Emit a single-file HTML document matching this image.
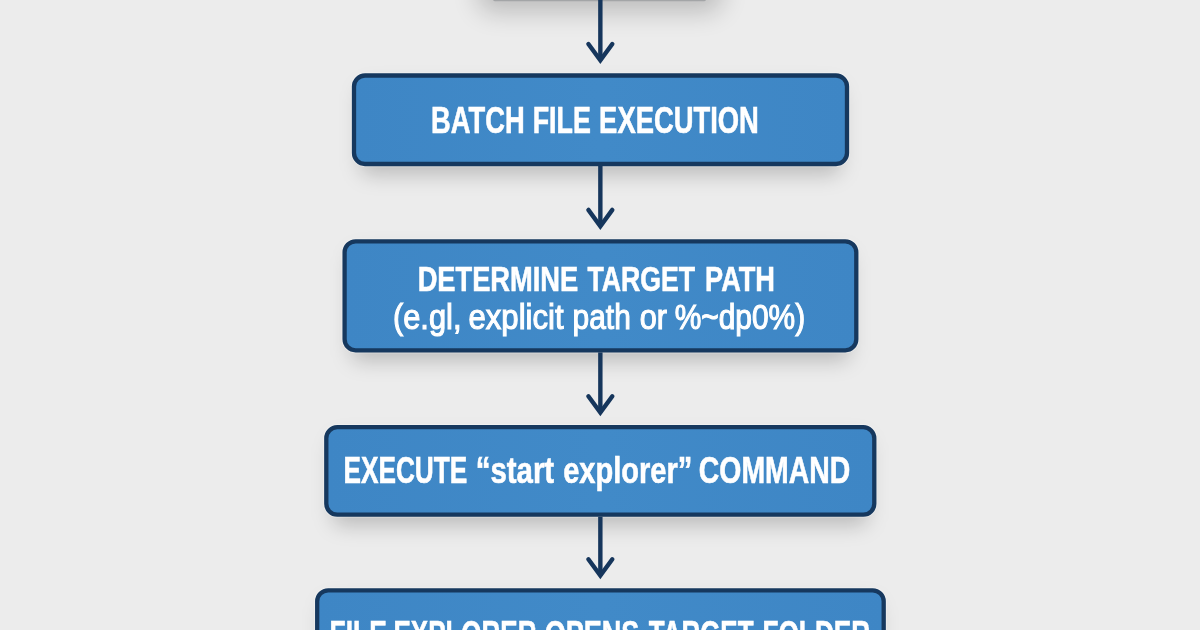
<!DOCTYPE html>
<html><head><meta charset="utf-8">
<style>
html,body{margin:0;padding:0;width:1200px;height:630px;overflow:hidden;background:#ececec;}
svg{display:block;}
text{font-family:"Liberation Sans",sans-serif;fill:#ffffff;stroke:#ffffff;stroke-width:0.6px;}
text.m{stroke-width:1.1px;}
</style></head>
<body>
<svg width="1200" height="630" viewBox="0 0 1200 630">
<defs>
<filter id="blur" x="-50%" y="-50%" width="200%" height="200%"><feGaussianBlur stdDeviation="10"/></filter>
<filter id="blur0" x="-50%" y="-50%" width="200%" height="300%"><feGaussianBlur stdDeviation="13"/></filter>
<linearGradient id="fill" x1="0" y1="0" x2="1" y2="0">
<stop offset="0" stop-color="#3e86c5"/>
<stop offset="0.5" stop-color="#418ac8"/>
<stop offset="1" stop-color="#3e86c5"/>
</linearGradient>
</defs>
<rect width="1200" height="630" fill="#ececec"/>
<!-- box 0 shadow + strip -->
<rect x="478" y="-40" width="244" height="52" rx="14" fill="#000" opacity="0.2" filter="url(#blur0)"/>
<rect x="493" y="-60" width="213" height="61.2" rx="2" fill="#a3a5a7"/>

<g filter="url(#blur)">
<rect x="360" y="86.5" width="481" height="88.5" rx="11" fill="#000" opacity="0.2"/>
<rect x="350.6" y="252.3" width="499.7" height="109" rx="11" fill="#000" opacity="0.2"/>
<rect x="332.3" y="438.2" width="536" height="87.5" rx="11" fill="#000" opacity="0.2"/>
<rect x="323.2" y="601.3" width="554.5" height="90" rx="11" fill="#000" opacity="0.2"/>
</g>
<rect x="354" y="75.5" width="493" height="88.5" rx="11" fill="none" stroke="#fff" stroke-opacity="0.3" stroke-width="6.3"/>
<rect x="354" y="75.5" width="493" height="88.5" rx="11" fill="url(#fill)" stroke="#16385e" stroke-width="4.3"/>
<rect x="344.6" y="241.3" width="511.7" height="109" rx="11" fill="none" stroke="#fff" stroke-opacity="0.3" stroke-width="6.3"/>
<rect x="344.6" y="241.3" width="511.7" height="109" rx="11" fill="url(#fill)" stroke="#16385e" stroke-width="4.3"/>
<rect x="326.3" y="427.2" width="548" height="87.5" rx="11" fill="none" stroke="#fff" stroke-opacity="0.3" stroke-width="6.3"/>
<rect x="326.3" y="427.2" width="548" height="87.5" rx="11" fill="url(#fill)" stroke="#16385e" stroke-width="4.3"/>
<rect x="317.2" y="590.3" width="566.5" height="90" rx="11" fill="none" stroke="#fff" stroke-opacity="0.3" stroke-width="6.3"/>
<rect x="317.2" y="590.3" width="566.5" height="90" rx="11" fill="url(#fill)" stroke="#16385e" stroke-width="4.3"/>
<g stroke="#16365c" stroke-width="4.4" fill="none" stroke-linecap="round" stroke-linejoin="miter">
<line x1="600.35" y1="0" x2="600.35" y2="60.3" stroke-linecap="butt"/>
<polyline points="588.4,44.0 600.35,60.3 612.3,44.0"/>
<line x1="600.35" y1="166" x2="600.35" y2="226.2" stroke-linecap="butt"/>
<polyline points="588.4,209.9 600.35,226.2 612.3,209.9"/>
<line x1="600.35" y1="352.4" x2="600.35" y2="412.5" stroke-linecap="butt"/>
<polyline points="588.4,396.2 600.35,412.5 612.3,396.2"/>
<line x1="600.35" y1="516.7" x2="600.35" y2="575.6" stroke-linecap="butt"/>
<polyline points="588.4,559.3 600.35,575.6 612.3,559.3"/>
</g>
<text x="431.12" y="133" font-size="37" font-weight="bold" textLength="93.55" lengthAdjust="spacingAndGlyphs">BATCH</text>
<text x="532.66" y="133" font-size="37" font-weight="bold" textLength="58.15" lengthAdjust="spacingAndGlyphs">FILE</text>
<text x="599.11" y="133" font-size="37" font-weight="bold" textLength="159.79" lengthAdjust="spacingAndGlyphs">EXECUTION</text>
<text x="417.66" y="290.7" font-size="35" font-weight="bold" textLength="160.54" lengthAdjust="spacingAndGlyphs">DETERMINE</text>
<text x="587.38" y="290.7" font-size="35" font-weight="bold" textLength="107.76" lengthAdjust="spacingAndGlyphs">TARGET</text>
<text x="705.06" y="290.7" font-size="35" font-weight="bold" textLength="69.96" lengthAdjust="spacingAndGlyphs">PATH</text>
<text class="m" x="392.94" y="328.8" font-size="34.2" font-weight="normal" textLength="68.55" lengthAdjust="spacingAndGlyphs">(e.gl,</text>
<text class="m" x="468.56" y="328.8" font-size="34.2" font-weight="normal" textLength="94.98" lengthAdjust="spacingAndGlyphs">explicit</text>
<text class="m" x="572.62" y="328.8" font-size="34.2" font-weight="normal" textLength="58.20" lengthAdjust="spacingAndGlyphs">path</text>
<text class="m" x="639.80" y="328.8" font-size="34.2" font-weight="normal" textLength="27.28" lengthAdjust="spacingAndGlyphs">or</text>
<text class="m" x="674.67" y="328.8" font-size="34.2" font-weight="normal" textLength="130.47" lengthAdjust="spacingAndGlyphs">%~dp0%)</text>
<text x="343.40" y="483.4" font-size="36.3" font-weight="bold" textLength="123.96" lengthAdjust="spacingAndGlyphs">EXECUTE</text>
<text x="475.68" y="483.4" font-size="36.3" font-weight="bold" textLength="78.46" lengthAdjust="spacingAndGlyphs">“start</text>
<text x="563.15" y="483.4" font-size="36.3" font-weight="bold" textLength="129.16" lengthAdjust="spacingAndGlyphs">explorer”</text>
<text x="698.85" y="483.4" font-size="36.3" font-weight="bold" textLength="151.44" lengthAdjust="spacingAndGlyphs">COMMAND</text>
<text x="329.54" y="646.5" font-size="37" font-weight="bold" textLength="57.25" lengthAdjust="spacingAndGlyphs">FILE</text>
<text x="393.44" y="646.5" font-size="37" font-weight="bold" textLength="143.07" lengthAdjust="spacingAndGlyphs">EXPLORER</text>
<text x="544.65" y="646.5" font-size="37" font-weight="bold" textLength="94.76" lengthAdjust="spacingAndGlyphs">OPENS</text>
<text x="648.77" y="646.5" font-size="37" font-weight="bold" textLength="104.74" lengthAdjust="spacingAndGlyphs">TARGET</text>
<text x="762.43" y="646.5" font-size="37" font-weight="bold" textLength="107.85" lengthAdjust="spacingAndGlyphs">FOLDER</text>
</svg>
</body></html>
